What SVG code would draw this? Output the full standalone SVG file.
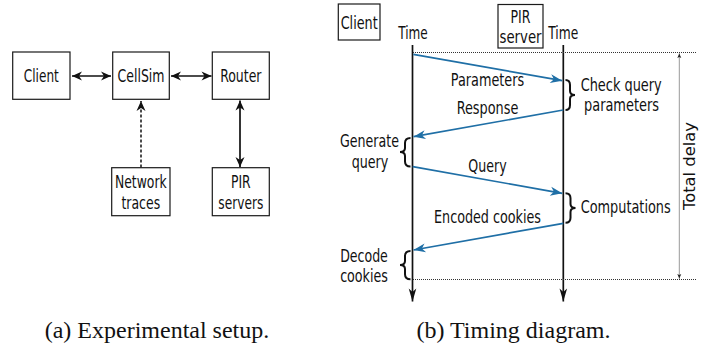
<svg xmlns="http://www.w3.org/2000/svg" width="707" height="346" viewBox="0 0 707 346">
<defs>
<style>
.box{fill:#fff;stroke:#1a1a1a;stroke-width:1.2}
.t{font-family:"DejaVu Sans Condensed","DejaVu Sans",sans-serif;font-size:17.5px;fill:#111;text-anchor:middle}
.td{font-family:"DejaVu Sans",sans-serif;font-size:16px;fill:#111;text-anchor:middle}
.cap{font-family:"Liberation Serif","Times New Roman",serif;font-size:24px;fill:#111;text-anchor:middle}
.c{fill:none;stroke:#111;stroke-width:1.7}
.dash{fill:none;stroke:#111;stroke-width:1.5;stroke-dasharray:3 2}
.blue{fill:none;stroke:#1f6fa6;stroke-width:1.7}
.dot{fill:none;stroke:#333;stroke-width:1;stroke-dasharray:1 1}
.brace{fill:none;stroke:#111;stroke-width:2}
</style>
<marker id="ah" viewBox="-11 -5 11 10" refX="0" refY="0" markerWidth="11" markerHeight="10" markerUnits="userSpaceOnUse" orient="auto-start-reverse">
<path d="M0,0 L-10,-4.5 L-7,0 L-10,4.5 Z" fill="#111"/>
</marker>
<marker id="life" viewBox="-14 -5 14 10" refX="0" refY="0" markerWidth="14" markerHeight="10" markerUnits="userSpaceOnUse" orient="auto">
<path d="M0,0 L-13,-3.8 L-9.5,0 L-13,3.8 Z" fill="#111"/>
</marker>
<marker id="bh" viewBox="-13 -5 13 10" refX="0" refY="0" markerWidth="13" markerHeight="10" markerUnits="userSpaceOnUse" orient="auto">
<path d="M0,0 L-12,-4.5 L-8.5,0 L-12,4.5 Z" fill="#1f6fa6"/>
</marker>
<marker id="sh" viewBox="-5 -3 5 6" refX="0" refY="0" markerWidth="5" markerHeight="6" markerUnits="userSpaceOnUse" orient="auto-start-reverse">
<path d="M0,0 L-4.5,-2 L-3.5,0 L-4.5,2 Z" fill="#222"/>
</marker>
</defs>
<rect width="707" height="346" fill="#fff"/>

<g id="connectors">
<line class="c" x1="72" y1="76" x2="111" y2="76" marker-start="url(#ah)" marker-end="url(#ah)"/>
<line class="c" x1="171" y1="76" x2="211.5" y2="76" marker-start="url(#ah)" marker-end="url(#ah)"/>
<line class="c" x1="240" y1="100.5" x2="240" y2="167" marker-start="url(#ah)" marker-end="url(#ah)"/>
<line class="dash" x1="141" y1="167.5" x2="141" y2="101" marker-end="url(#ah)"/>

<line class="c" x1="412.5" y1="45" x2="412.5" y2="301.5" marker-end="url(#life)"/>
<line class="c" x1="563.3" y1="45" x2="563.3" y2="301.5" marker-end="url(#life)"/>
<line class="dot" x1="413" y1="52.5" x2="697" y2="52.5"/>
<line class="dot" x1="413" y1="279.5" x2="697" y2="279.5"/>
<line class="dot" x1="679.3" y1="53.5" x2="679.3" y2="278.5" marker-start="url(#sh)" marker-end="url(#sh)"/>

<line class="blue" x1="413.3" y1="54.3" x2="562.3" y2="80.7" marker-end="url(#bh)"/>
<line class="blue" x1="563.3" y1="110" x2="413.5" y2="136.7" marker-end="url(#bh)"/>
<line class="blue" x1="412.7" y1="166.7" x2="562.3" y2="193.3" marker-end="url(#bh)"/>
<line class="blue" x1="563.3" y1="223.3" x2="413.5" y2="250" marker-end="url(#bh)"/>
</g>

<g id="client">
<rect class="box" x="12.7" y="52" width="57.3" height="47.3"/>
<text class="t" x="41.3" y="82" textLength="35" lengthAdjust="spacingAndGlyphs">Client</text>
</g>
<g id="cellsim">
<rect class="box" x="112.7" y="52" width="56.6" height="47.3"/>
<text class="t" x="141" y="82" textLength="47" lengthAdjust="spacingAndGlyphs">CellSim</text>
</g>
<g id="router">
<rect class="box" x="212.3" y="52" width="57" height="47.3"/>
<text class="t" x="240.8" y="82" textLength="41.3" lengthAdjust="spacingAndGlyphs">Router</text>
</g>
<g id="network-traces">
<rect class="box" x="111.7" y="167.7" width="58.3" height="48"/>
<text class="t" x="140.8" y="188" textLength="51.7" lengthAdjust="spacingAndGlyphs">Network</text>
<text class="t" x="140.8" y="208.5" textLength="38.7" lengthAdjust="spacingAndGlyphs">traces</text>
</g>
<g id="pir-servers">
<rect class="box" x="212.3" y="167.7" width="57" height="48"/>
<text class="t" x="240.8" y="188" textLength="19.7" lengthAdjust="spacingAndGlyphs">PIR</text>
<text class="t" x="240.8" y="208.5" textLength="45" lengthAdjust="spacingAndGlyphs">servers</text>
</g>

<g id="tclient">
<rect class="box" x="338.3" y="4" width="41.7" height="36"/>
<text class="t" x="359.2" y="29" textLength="37" lengthAdjust="spacingAndGlyphs">Client</text>
<text class="t" x="413" y="39" textLength="29.5" lengthAdjust="spacingAndGlyphs">Time</text>
</g>
<g id="tserver">
<rect class="box" x="498" y="4.5" width="45" height="43.5"/>
<text class="t" x="520.5" y="22.5" textLength="20" lengthAdjust="spacingAndGlyphs">PIR</text>
<text class="t" x="520.5" y="43" textLength="42" lengthAdjust="spacingAndGlyphs">server</text>
<text class="t" x="563.3" y="39" textLength="30" lengthAdjust="spacingAndGlyphs">Time</text>
</g>

<g id="messages">
<text class="t" x="487.5" y="86" textLength="73.3" lengthAdjust="spacingAndGlyphs">Parameters</text>
<text class="t" x="487.5" y="114" textLength="61.7" lengthAdjust="spacingAndGlyphs">Response</text>
<text class="t" x="487.5" y="171.5" textLength="38.3" lengthAdjust="spacingAndGlyphs">Query</text>
<text class="t" x="487.5" y="223.3" textLength="107" lengthAdjust="spacingAndGlyphs">Encoded cookies</text>
</g>

<g id="check">
<path class="brace" d="M565.5,80 Q570,80 570,85 L570,91 Q570,95 575,95 Q570,95 570,99 L570,105 Q570,110 565.5,110"/>
<text class="t" x="621.2" y="90.5" textLength="81" lengthAdjust="spacingAndGlyphs">Check query</text>
<text class="t" x="621.5" y="110.7" textLength="75" lengthAdjust="spacingAndGlyphs">parameters</text>
</g>
<g id="generate">
<path class="brace" d="M410.5,138 Q405,138 405,143 L405,148 Q405,152 400,152 Q405,152 405,156 L405,161.5 Q405,166.5 410.5,166.5"/>
<text class="t" x="369.5" y="147" textLength="59" lengthAdjust="spacingAndGlyphs">Generate</text>
<text class="t" x="370" y="168.3" textLength="36.7" lengthAdjust="spacingAndGlyphs">query</text>
</g>
<g id="computations">
<path class="brace" d="M565.5,193.3 Q570.5,193.3 570.5,198.3 L570.5,204 Q570.5,208 575.5,208 Q570.5,208 570.5,212 L570.5,217.7 Q570.5,222.7 565.5,222.7"/>
<text class="t" x="625.7" y="213.3" textLength="90" lengthAdjust="spacingAndGlyphs">Computations</text>
</g>
<g id="decode">
<path class="brace" d="M410.5,251 Q405,251 405,256 L405,261 Q405,265 400,265 Q405,265 405,269 L405,274.3 Q405,279.3 410.5,279.3"/>
<text class="t" x="364" y="261.5" textLength="47.7" lengthAdjust="spacingAndGlyphs">Decode</text>
<text class="t" x="364" y="281.5" textLength="47.7" lengthAdjust="spacingAndGlyphs">cookies</text>
</g>
<g id="total-delay">
<text class="td" transform="translate(695,166) rotate(-90)" textLength="88" lengthAdjust="spacingAndGlyphs">Total delay</text>
</g>

<g id="captions">
<text class="cap" x="157" y="338">(a) Experimental setup.</text>
<text class="cap" x="513.5" y="338">(b) Timing diagram.</text>
</g>
</svg>
